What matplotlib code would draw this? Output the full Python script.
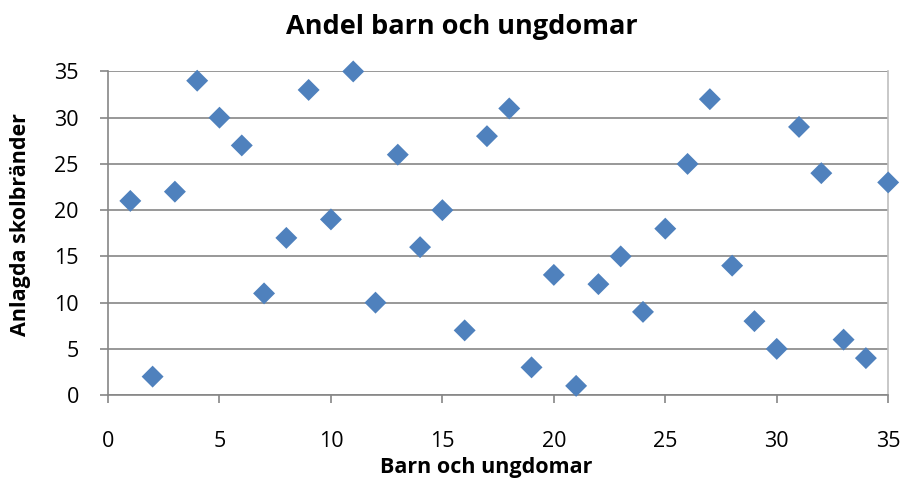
import matplotlib.pyplot as plt
import numpy as np

#---------- Data
barn = list(range(1, 36))
skolbrander = [21, 2, 22, 34, 30, 27, 11, 17, 33, 19, 35, 10, 26, 16, 20, 7, 28,
               31, 3, 13, 1, 12, 15, 9, 18, 25, 32, 14, 8, 5, 29, 24, 6, 4, 23]
x_ticks = [0, 5, 10, 15, 20, 25, 30, 35]
y_ticks = [0, 5, 10, 15, 20, 25, 30, 35]

plt.rcParams['font.family'] = ['Open Sans', 'DejaVu Sans']

fig = plt.figure(figsize=(9.04, 4.86), dpi=100)
ax = fig.add_axes([0.1195, 0.187, 0.863, 0.666])

ax.scatter(barn, skolbrander, marker='D', s=125, color='#4F81BD',
           edgecolors='none', zorder=3, clip_on=False)

ax.set_xlim(0, 35)
ax.set_ylim(0, 35)
ax.set_xticks(x_ticks)
ax.set_yticks(y_ticks)
ax.tick_params(labelsize=15.5, length=6, width=1.2, color='#868686')
ax.tick_params(axis='x', pad=20)
ax.tick_params(axis='y', pad=15)

ax.grid(axis='y', color='#868686', linewidth=1.2)
ax.set_axisbelow(True)
for side in ['left', 'bottom']:
    ax.spines[side].set_color('#868686')
    ax.spines[side].set_linewidth(1.2)
ax.spines['top'].set_visible(False)
ax.spines['right'].set_color('#BFBFBF')
ax.spines['right'].set_linewidth(1.2)

#---------- Title sits over the figure centre, not the plot area
fig.text(0.511, 0.944, 'Andel barn och ungdomar', fontsize=19.5,
         fontweight='bold', ha='center', va='center')
ax.set_xlabel('Barn och ungdomar', fontsize=15.5, fontweight='bold')
ax.set_ylabel('Anlagda skolbränder', fontsize=15.5, fontweight='bold')
ax.xaxis.set_label_coords(0.485, -0.19)
ax.yaxis.set_label_coords(-0.099, 0.528)

fig.savefig('out.png', dpi=100)
